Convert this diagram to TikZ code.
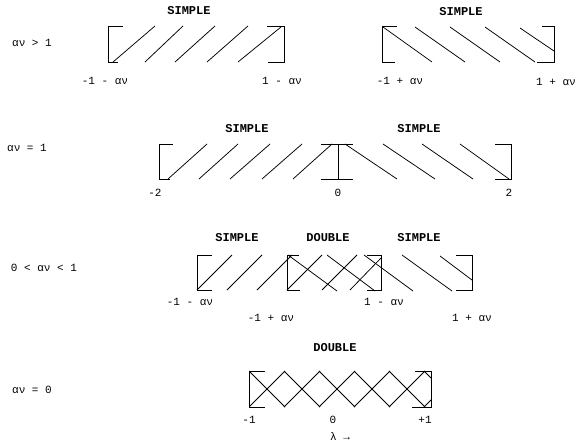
\documentclass[tikz,border=0pt]{standalone}
\usepackage{fontspec}
\setmainfont{Liberation Mono}
\begin{document}
\begin{tikzpicture}[x=1pt,y=-1pt, line width=0.75pt,
  title/.style={font=\bfseries\fontsize{12}{12}\selectfont, inner sep=0pt},
  lbl/.style={font=\fontsize{11}{11}\selectfont, inner sep=0pt},
  side/.style={font=\fontsize{11}{11}\selectfont, inner sep=0pt},
]
\useasboundingbox (0,0) rectangle (584,447);

% ---------- Row 1 : av > 1 ----------
\node[side] (s1) at (32,43) {αν > 1};
\node[title] (t1a) at (189,11) {SIMPLE};
\node[title] (t1b) at (461,12) {SIMPLE};
\draw (123,26) -- (108,26) -- (108,62) -- (118,62);
\draw (267,26) -- (284,26) -- (284,62) -- (268,62);
\foreach \a/\b in {113/155,145/183,175/215,207/248}{\draw (\a,62) -- (\b,26);}
\draw (238,62) -- (281,27);
\draw (397,26) -- (382,26) -- (382,62) -- (395,62);
\draw (542,26) -- (554,26) -- (554,62) -- (537,62);
\foreach \a/\b in {383/432,415/465,450/500,485/535}{\draw (\a,27) -- (\b,62);}
\draw (520,28) -- (554,51);
\node[lbl] (l1a) at (105,81) {-1 - αν};
\node[lbl] (l1b) at (282,81) {1 - αν};
\node[lbl] (l1c) at (400,81) {-1 + αν};
\node[lbl] (l1d) at (556,82) {1 + αν};

% ---------- Row 2 : av = 1 ----------
\node[side] (s2) at (27,148) {αν = 1};
\node[title] (t2a) at (247,129) {SIMPLE};
\node[title] (t2b) at (419,129) {SIMPLE};
\draw (173,144) -- (159,144) -- (159,179) -- (170,179);
\foreach \a/\b in {168/207,199/238,230/270,262/302,293/332}{\draw (\a,179) -- (\b,144);}
\draw (321,144) -- (353,144);
\draw (321,179) -- (353,179);
\draw (338,144) -- (338,179);
\foreach \a/\b in {345/397,383/435,422/473,460/509}{\draw (\a,144) -- (\b,179);}
\draw (495,144) -- (511,144) -- (511,179) -- (495,179);
\node[lbl] (l2a) at (155,193) {-2};
\node[lbl] (l2b) at (338,193) {0};
\node[lbl] (l2c) at (509,193) {2};

% ---------- Row 3 : 0 < av < 1 ----------
\node[side] (s3) at (44,268) {0 < αν < 1};
\node[title] (t3a) at (237,238) {SIMPLE};
\node[title] (t3b) at (328,238) {DOUBLE};
\node[title] (t3c) at (419,238) {SIMPLE};
\draw (212,255) -- (197,255) -- (197,290) -- (212,290);
\draw (299,255) -- (287,255) -- (287,290) -- (300,290);
\draw (367,255) -- (381,255) -- (381,290) -- (367,290);
\draw (456,255) -- (472,255) -- (472,290) -- (456,290);
\foreach \a/\b in {197/232,227/262,257/292,287/322,322/357}{\draw (\a,290) -- (\b,255);}
\draw (350,290) -- (381,258);
\foreach \a/\b in {288/337,327/375,364/413,402/452}{\draw (\a,255) -- (\b,291);}
\draw (440,256) -- (472,280);
\node[lbl] (l3a) at (190,302) {-1 - αν};
\node[lbl] (l3b) at (271,318) {-1 + αν};
\node[lbl] (l3c) at (384,302) {1 - αν};
\node[lbl] (l3d) at (472,318) {1 + αν};

% ---------- Row 4 : av = 0 ----------
\node[side] (s4) at (32,390) {αν = 0};
\node[title] (t4) at (335,348) {DOUBLE};
\draw (265,371) -- (249,371) -- (249,407) -- (265,407);
\draw (415,371) -- (431,371) -- (431,407) -- (412,407);
\begin{scope}
\clip (249,360) rectangle (431,420);
\foreach \k in {0,...,5}{
  \draw ({249+35*\k},371) -- ({285+35*\k},407);
  \draw ({249+35*\k},407) -- ({285+35*\k},371);
}
\end{scope}
\node[lbl] (l4a) at (249,420) {-1};
\node[lbl] (l4b) at (333,420) {0};
\node[lbl] (l4c) at (425,420) {+1};
\node[lbl] (l4d) at (340,437) {λ →};
\end{tikzpicture}
\end{document}
